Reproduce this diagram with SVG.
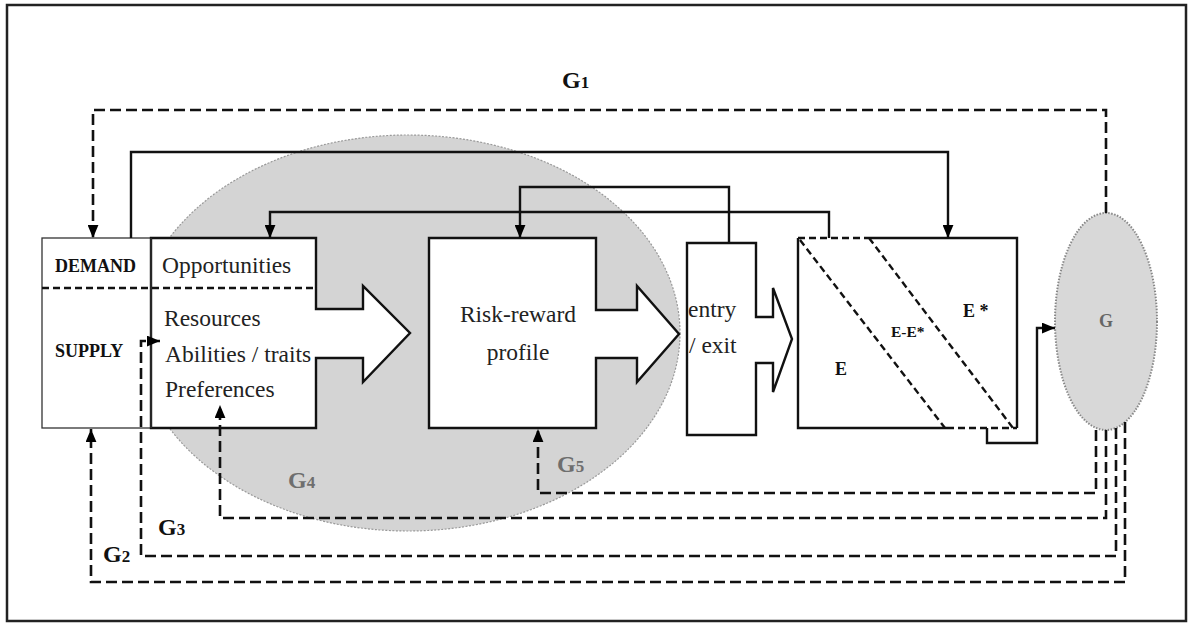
<svg xmlns="http://www.w3.org/2000/svg" width="1189" height="627" viewBox="0 0 1189 627">
<defs>
<marker id="ah" viewBox="0 0 12 10" refX="12" refY="5" markerWidth="13" markerHeight="11" markerUnits="userSpaceOnUse" orient="auto">
<path d="M0,0 L12,5 L0,10 z" fill="#000"/>
</marker>
<style>
.frame{fill:none;stroke:#222;stroke-width:2.5}
.solid{fill:none;stroke:#111;stroke-width:2.4}
.dash{fill:none;stroke:#111;stroke-width:2.6;stroke-dasharray:11 5}
.sdash{fill:none;stroke:#111;stroke-width:2.4;stroke-dasharray:7 4}
.box{fill:#fff;stroke:#111;stroke-width:2.4;stroke-linejoin:miter}
.thin{fill:#fff;stroke:#333;stroke-width:1.3}
.t{font-family:"Liberation Serif","Times New Roman",serif;font-size:23.5px;fill:#222}
.b{font-family:"Liberation Serif","Times New Roman",serif;font-weight:bold;fill:#111}
.g{font-family:"Liberation Serif","Times New Roman",serif;font-weight:bold;fill:#111;font-size:24px}
.gg{font-family:"Liberation Serif","Times New Roman",serif;font-weight:bold;fill:#6e6e6e;font-size:24px}
.sub{font-size:17px}
</style>
</defs>
<rect width="1189" height="627" fill="#fff"/>
<path class="frame" d="M7,621 L7,5 L1186,5 L1186,621 Z"/>

<g id="region-ellipse">
<ellipse cx="408" cy="333" rx="272" ry="198" fill="#d4d4d4" stroke="#999" stroke-width="1.2" stroke-dasharray="2 1.5"/>
</g>

<g id="supply-demand">
<rect class="thin" x="42" y="238" width="109" height="190"/>
<text class="b" x="55" y="272" font-size="18">DEMAND</text>
<text class="b" x="55" y="357" font-size="18">SUPPLY</text>
</g>

<g id="opportunities">
<path class="box" d="M151,238 L316,238 L316,309 L363,309 L363,286 L410,333 L363,382 L363,358 L316,358 L316,428 L151,428 Z"/>
<line x1="151" y1="238" x2="151" y2="428" stroke="#333" stroke-width="1.3"/>
<line class="sdash" x1="42" y1="288" x2="316" y2="288"/>
<text class="t" x="162" y="273">Opportunities</text>
<text class="t" x="164" y="326">Resources</text>
<text class="t" x="165" y="362">Abilities / traits</text>
<text class="t" x="165" y="397">Preferences</text>
</g>

<g id="risk-reward">
<path class="box" d="M429,238 L596,238 L596,310 L637,310 L637,286 L679,334 L637,382 L637,358 L596,358 L596,428 L429,428 Z"/>
<text class="t" x="518" y="322" text-anchor="middle" font-size="24">Risk-reward</text>
<text class="t" x="518" y="360" text-anchor="middle" font-size="24">profile</text>
</g>

<g id="entry-exit">
<path class="box" d="M687,243 L756,243 L756,317 L773,317 L773,288 L792,339 L773,392 L773,363 L756,363 L756,435 L687,435 Z"/>
<text class="t" x="688" y="317" font-size="24">entry</text>
<text class="t" x="689" y="353" font-size="24">/ exit</text>
</g>

<g id="e-box">
<rect x="798" y="238" width="219" height="190" fill="#fff" stroke="none"/>
<path class="solid" d="M869,238 L1017,238 L1017,428 M798,238 L798,428 L947,428"/>
<path class="sdash" d="M798,238 L869,238 M947,428 L1017,428 M800,240 L945,428 M869,238 L1013,428"/>
<text class="b" x="963" y="317" font-size="18">E *</text>
<text class="b" x="891" y="337" font-size="15.5">E-E*</text>
<text class="b" x="835" y="375" font-size="18">E</text>
</g>

<g id="g-node">
<ellipse cx="1106" cy="321.5" rx="51" ry="108.5" fill="#d8d8d8" stroke="#888" stroke-width="2" stroke-dasharray="1.5 1.5"/>
<text x="1106" y="327" text-anchor="middle" font-family="Liberation Serif, serif" font-weight="bold" font-size="18" fill="#666">G</text>
</g>

<g id="labels">
<text class="g" x="562" y="88">G<tspan class="sub">1</tspan></text>
<text class="g" x="103" y="562">G<tspan class="sub">2</tspan></text>
<text class="g" x="158" y="535">G<tspan class="sub">3</tspan></text>
<text class="gg" x="288" y="488">G<tspan class="sub">4</tspan></text>
<text class="gg" x="557" y="472">G<tspan class="sub">5</tspan></text>
</g>

<g id="connectors">
<path class="solid" d="M131,238 L131,152 L948,152 L948,238" marker-end="url(#ah)"/>
<path class="solid" d="M829,238 L829,212 L270,212 L270,238" marker-end="url(#ah)"/>
<path class="solid" d="M729,243 L729,187 L520,187 L520,238" marker-end="url(#ah)"/>
<path class="solid" d="M987,428 L987,443 L1037,443 L1037,328 L1055,328" marker-end="url(#ah)"/>
<path class="dash" d="M1106,213 L1106,110 L93,110 L93,238" marker-end="url(#ah)"/>
<path class="dash" d="M1096,430 L1096,493 L538,493 L538,429" marker-end="url(#ah)"/>
<path class="dash" d="M1106,430 L1106,518 L220,518 L220,405" marker-end="url(#ah)"/>
<path class="dash" d="M1116,428 L1116,556 L141,556 L141,341 L160,341" marker-end="url(#ah)"/>
<path class="dash" d="M1125,422 L1125,582 L91,582 L91,429" marker-end="url(#ah)"/>
</g>
</svg>
